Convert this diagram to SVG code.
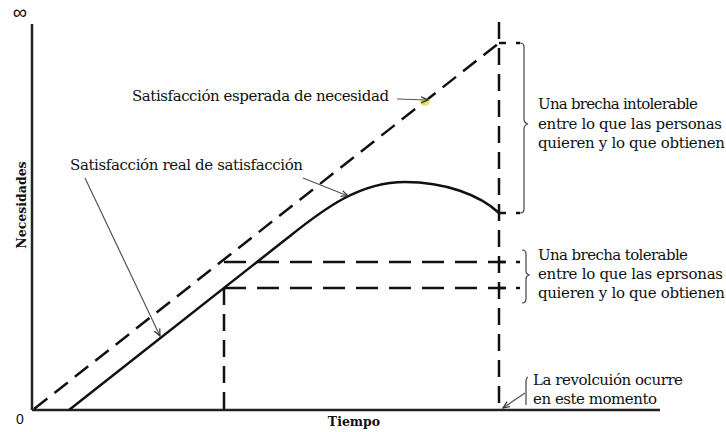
<svg xmlns="http://www.w3.org/2000/svg" width="726" height="432" viewBox="0 0 726 432">
<style>
.t{font-family:"DejaVu Serif","Liberation Serif",serif;font-size:15px;fill:#111}
.b{font-family:"DejaVu Serif","Liberation Serif",serif;font-size:12.5px;font-weight:bold;fill:#111}
.s{font-family:"Liberation Sans",Arial,sans-serif;font-size:14px;fill:#111}
.axis{stroke:#222;stroke-width:2.5;fill:none}
.dash{stroke:#111;stroke-width:2.5;fill:none;stroke-dasharray:17 9}
.hd{stroke:#111;stroke-width:2.5;fill:none;stroke-dasharray:22 11}
.solid{stroke:#111;stroke-width:2.5;fill:none}
.thin{stroke:#555;stroke-width:1.2;fill:none}
.br{stroke:#444;stroke-width:1.2;fill:none}
</style>
<defs>
<marker id="ah" markerWidth="8" markerHeight="8" refX="7" refY="4" orient="auto" markerUnits="userSpaceOnUse">
<path d="M0,1 L7,4 L0,7" fill="none" stroke="#333" stroke-width="1.2"/>
</marker>
</defs>
<rect width="726" height="432" fill="#fff"/>

<g id="axes">
<line class="axis" x1="32" y1="24" x2="32" y2="410"/>
<line class="axis" x1="32" y1="410" x2="660" y2="410"/>
<text class="s" x="20" y="19" text-anchor="middle" style="font-size:20px">∞</text>
<text class="s" x="20" y="424" text-anchor="middle">0</text>
<text class="b" x="354" y="426" text-anchor="middle">Tiempo</text>
<text class="b" transform="translate(26,205) rotate(-90)" text-anchor="middle">Necesidades</text>
</g>

<g id="expected-line">
<line class="dash" x1="34" y1="409" x2="499" y2="43"/>
</g>

<g id="real-curve">
<path class="solid" d="M69,410 L290,236 C325,208 360,182 405,182 C445,182 480,195 499,213"/>
</g>

<g id="guides">
<line class="dash" x1="499" y1="22" x2="499" y2="410"/>
<line class="dash" x1="224" y1="288" x2="224" y2="410"/>
<line class="hd" x1="224" y1="262" x2="505" y2="262"/>
<line class="hd" x1="224" y1="288" x2="505" y2="288"/>
<line class="solid" x1="499" y1="43" x2="506" y2="43"/>
<line class="solid" x1="499" y1="213" x2="506" y2="213"/>
<line class="solid" x1="499" y1="262" x2="506" y2="262"/>
<line class="solid" x1="499" y1="288" x2="506" y2="288"/>
<line class="solid" x1="516" y1="43" x2="520" y2="43"/>
<line class="solid" x1="516" y1="213" x2="520" y2="213"/>
<line class="solid" x1="516" y1="262" x2="520" y2="262"/>
<line class="solid" x1="516" y1="288" x2="520" y2="288"/>
</g>

<g id="label-expected">
<text class="t" x="132" y="101" textLength="257">Satisfacción esperada de necesidad</text>
<ellipse cx="425" cy="102" rx="5" ry="4" fill="#e8e060" opacity="0.85"/>
</g>

<g id="label-real">
<text class="t" x="70" y="170" textLength="233">Satisfacción real de satisfacción</text>
</g>

<g id="label-intolerable">
<path class="br" d="M520,43 Q524,43 524,47 L524,119 Q524,123 528,124 Q524,125 524,129 L524,209 Q524,213 520,213"/>
<text class="t" x="538" y="109" textLength="160">Una brecha intolerable</text>
<text class="t" x="538" y="129" textLength="184">entre lo que las personas</text>
<text class="t" x="538" y="148" textLength="187">quieren y lo que obtienen</text>
</g>

<g id="label-tolerable">
<path class="br" d="M522,250 Q526,250 526,254 L526,271 Q526,274 529,275 Q526,276 526,279 L526,299 Q526,303 522,303"/>
<text class="t" x="538" y="260" textLength="150">Una brecha tolerable</text>
<text class="t" x="538" y="279" textLength="185">entre lo que las eprsonas</text>
<text class="t" x="538" y="298" textLength="187">quieren y lo que obtienen</text>
</g>

<g id="label-revolution">
<path class="br" d="M528,377 Q526,378 526,381 L526,405"/>
<text class="t" x="533" y="385" textLength="150">La revolcuión ocurre</text>
<text class="t" x="533" y="404" textLength="124">en este momento</text>
</g>

<g id="connectors">
<line class="thin" x1="397" y1="99" x2="428" y2="100" marker-end="url(#ah)"/>
<line class="thin" x1="303" y1="178" x2="348" y2="196" marker-end="url(#ah)"/>
<line class="thin" x1="85" y1="178" x2="160" y2="336" marker-end="url(#ah)"/>
<line class="thin" x1="525" y1="393" x2="503" y2="408" marker-end="url(#ah)"/>
</g>
</svg>
